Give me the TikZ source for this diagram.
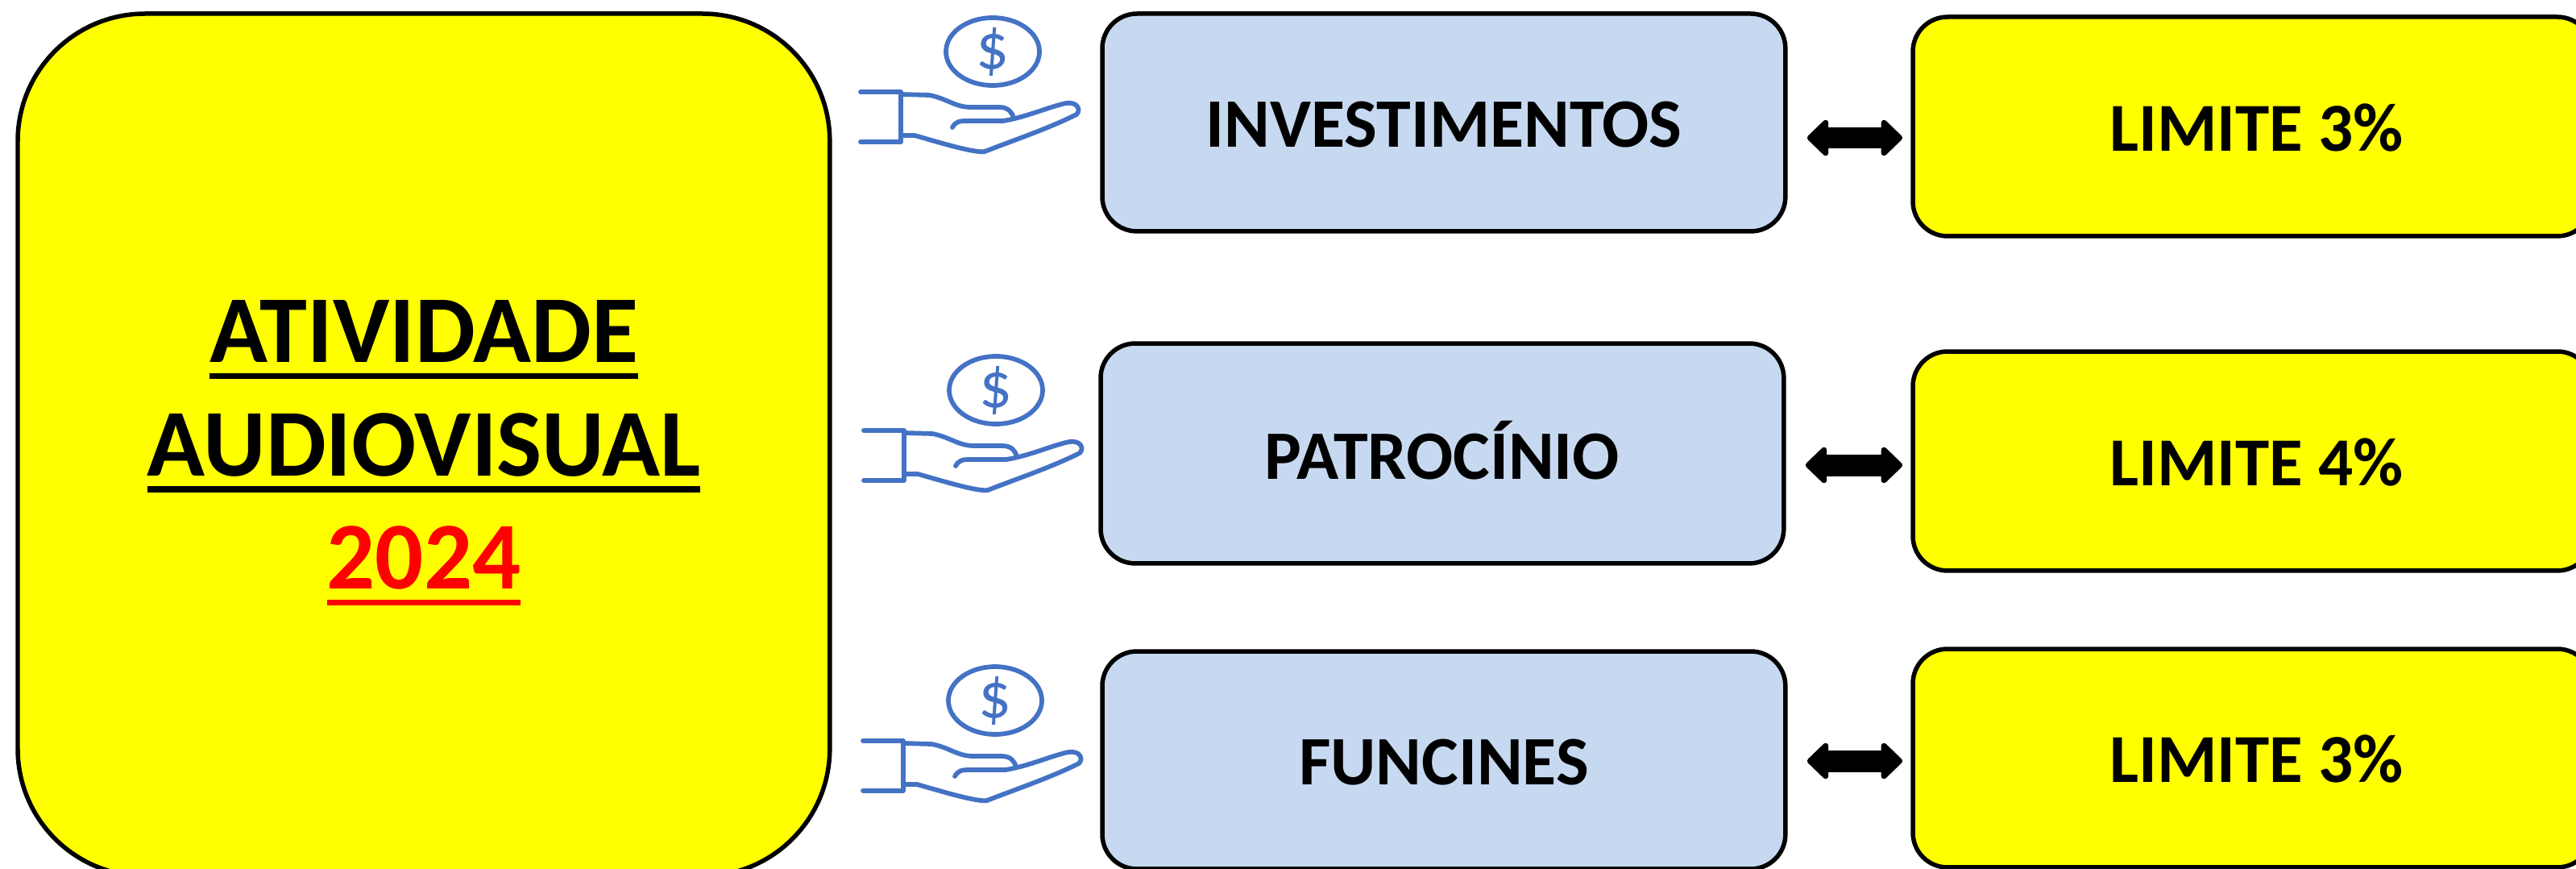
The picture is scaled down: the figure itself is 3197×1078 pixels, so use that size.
\documentclass[tikz,border=0pt]{standalone}
\usepackage{fontspec}
\usetikzlibrary{arrows.meta}
\setmainfont{Carlito}
\definecolor{boxyellow}{RGB}{255,255,0}
\definecolor{boxblue}{RGB}{198,217,240}
\definecolor{iconblue}{RGB}{68,114,196}
\newcommand{\thickul}[1]{\setbox0\hbox{#1}\hbox to \wd0{\rlap{\rule[-0.414cm]{\wd0}{0.154cm}}#1}}
\tikzset{
  x=0.02cm,y=-0.02cm,
  bigbox/.style={draw=black,fill=boxyellow,line width=0.11cm,rounded corners=3.16cm,inner sep=0pt,outer sep=0pt,anchor=north west},
  bluebox/.style={draw=black,fill=boxblue,line width=0.11cm,rounded corners=0.86cm,inner sep=0pt,outer sep=0pt,anchor=north west,text height=1.22cm,text depth=0pt,font=\fontsize{49}{56}\selectfont\bfseries},
  limitbox/.style={bluebox,fill=boxyellow,font=\fontsize{48.5}{56}\selectfont\bfseries},
  pairarrow/.style={{Triangle[length=0.56cm,width=1.04cm,round]}-{Triangle[length=0.56cm,width=1.04cm,round]},line width=0.54cm,shorten <=0.54cm,shorten >=0.26cm},
  handline/.style={draw=iconblue,line width=0.115cm,line cap=round,line join=round},
  pics/moneyhand/.style={code={
      \draw[handline] (192,64) ellipse (58 and 42);
      \node[text=iconblue,font=\fontsize{46}{46}\selectfont] (#1) at (192,64) {\$};
      \draw[handline] (28,114) -- (78,114) -- (78,176) -- (28,176);
      \draw[handline] (78,117) -- (113,118) .. controls (135,122) and (145,133) .. (165,133) -- (200,133) .. controls (212,133) and (216,140) .. (218,146);
      \draw[handline] (142,158) .. controls (146,151) and (150,150) .. (160,150) -- (205,150) .. controls (235,145) and (260,133) .. (283,128) .. controls (297,126) and (302,136) .. (296,142) .. controls (260,160) and (215,175) .. (182,188) .. controls (170,190) and (130,178) .. (95,168) -- (78,168);
  }}
}
\begin{document}
\begin{tikzpicture}
\useasboundingbox (0,0) rectangle (3197,1078);
% big box on the left
\node[bigbox,minimum width=20.16cm,minimum height=21.4cm] (atividade) at (22,17) {};
\node[align=center,font=\fontsize{67.6}{80}\selectfont\bfseries] (titulo) at (526,562)
  {\thickul{ATIVIDADE}\\\thickul{AUDIOVISUAL}\\\textcolor{red}{\thickul{2024}}};
% middle column
\node[bluebox,minimum width=16.96cm,minimum height=5.4cm] (invest) at (1368,17) {INVESTIMENTOS};
\node[bluebox,minimum width=16.96cm,minimum height=5.46cm,text height=1.3cm] (patroc) at (1366,426) {PATROCÍNIO};
\node[bluebox,minimum width=16.96cm,minimum height=5.4cm] (funcines) at (1368,808) {FUNCINES};
% right column
\node[limitbox,minimum width=16.86cm,minimum height=5.44cm] (lima) at (2374,21) {\hspace*{0.2cm}LIMITE 3\%};
\node[limitbox,minimum width=16.86cm,minimum height=5.44cm] (limb) at (2374,436) {\hspace*{0.2cm}LIMITE 4\%};
\node[limitbox,minimum width=16.86cm,minimum height=5.42cm] (limc) at (2374,805) {\hspace*{0.2cm}LIMITE 3\%};
% arrows
\coordinate (ya) at (0,171);
\coordinate (yb) at (0,577);
\coordinate (yc) at (0,944);
\draw[pairarrow] (invest.east |- ya) -- (lima.west |- ya);
\draw[pairarrow] (patroc.east |- yb) -- (limb.west |- yb);
\draw[pairarrow] (funcines.east |- yc) -- (limc.west |- yc);
% hands
\pic at (1040,0) {moneyhand=dollara};
\pic at (1044,420) {moneyhand=dollarb};
\pic at (1043,805) {moneyhand=dollarc};
\end{tikzpicture}
\end{document}
